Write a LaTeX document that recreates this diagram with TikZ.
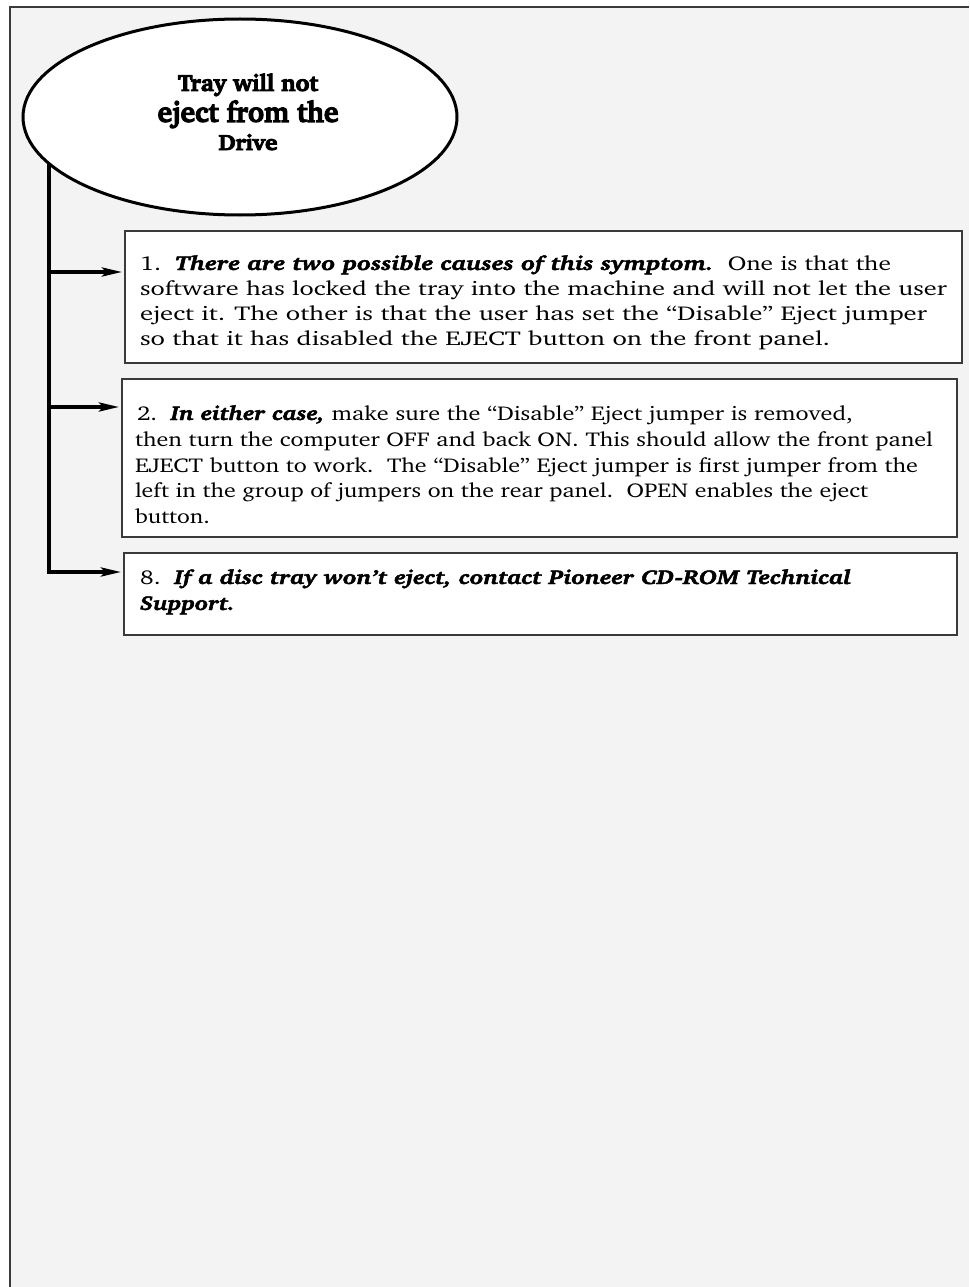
\documentclass[tikz,border=0pt]{standalone}
\usepackage[T1]{fontenc}
\usepackage{charter}
\usepackage{graphicx}
\usetikzlibrary{shapes.geometric,arrows.meta}
\definecolor{bgc}{HTML}{F3F3F3}
\definecolor{edgec}{HTML}{3A3A3A}
\newsavebox\fitbox
\newcommand\fitline[2]{\sbox\fitbox{#2}\pgfmathsetmacro\fitr{#1/(\wd\fitbox)}\scalebox{\fitr}[1]{\usebox\fitbox}}
\newcommand\fitlinev[3]{\sbox\fitbox{#3}\pgfmathsetmacro\fitr{#1/(\wd\fitbox)}\scalebox{\fitr}[#2]{\usebox\fitbox}}
\newcommand\heavy[2]{\special{pdf:literal direct 2 Tr #1 w}#2\special{pdf:literal direct 0 Tr}}
\newcommand\bi[1]{{\bfseries\itshape\heavy{0.45}{#1}}}
\tikzset{
  stepbox/.style={draw=edgec, line width=1.3pt, fill=white, inner sep=0pt, outer sep=0pt},
  txt/.style={anchor=base west, inner sep=0pt, outer sep=0pt, font=\fontsize{20}{24}\selectfont},
  ttl/.style={anchor=base, inner sep=0pt, outer sep=0pt},
  conn/.style={line width=3.5pt, -{Stealth[length=20pt,width=9pt,inset=4pt]}, shorten >=3pt}
}
\begin{document}
\begin{tikzpicture}[x=1pt,y=-1pt]
\useasboundingbox (0,0) rectangle (969,1287);
\fill[white] (0,0) rectangle (969,1287);
\fill[bgc] (9,6) rectangle (969,1287);
\draw[edgec, line width=1.6pt] (9.8,1287) -- (9.8,6.8) -- (969,6.8);

% boxes
\node[stepbox, minimum width=837pt, minimum height=132pt] (b1) at (543.5,297) {};
\node[stepbox, minimum width=835pt, minimum height=158pt] (b2) at (539.5,458) {};
\node[stepbox, minimum width=833pt, minimum height=82pt] (b3) at (540.5,594) {};

% connectors
\coordinate (ttop) at (49,150);
\coordinate (j1) at (49,272);
\coordinate (j2) at (49,407);
\coordinate (j3) at (49,572);
\draw[line width=3.5pt] (ttop) -- (j1);
\draw[conn] (j1) -- (j1 -| b1.west);
\draw[conn] (j2) -- (j2 -| b2.west);
\draw[conn] (ttop) -- (j3) -- (j3 -| b3.west);

% ellipse
\node[ellipse, draw, line width=3pt, fill=white, minimum width=434pt, minimum height=196pt, inner sep=0pt] (e) at (240,117) {};
\node[ttl] (e1) at (248,91) {\fitlinev{140}{1.12}{\fontsize{21}{24}\selectfont\bfseries\heavy{0.8}{Tray will not}}};
\node[ttl] (e2) at (248,122) {\fitlinev{181}{1.12}{\fontsize{26}{30}\selectfont\bfseries\heavy{0.9}{eject from the}}};
\node[ttl] (e3) at (248,150) {\fitlinev{59}{1.1}{\fontsize{20}{24}\selectfont\bfseries\heavy{0.8}{Drive}}};

% box 1 text
\node[txt] (t11) at (140,270) {\fitline{751}{1.\ \ \bi{There are two possible causes of this symptom.}\ \ One is that the}};
\node[txt] (t12) at (140,295) {\fitline{807}{software has locked the tray into the machine and will not let the user}};
\node[txt] (t13) at (140,320) {\fitline{787}{eject it. The other is that the user has set the ``Disable'' Eject jumper}};
\node[txt] (t14) at (140,345) {\fitline{690}{so that it has disabled the EJECT button on the front panel.}};

% box 2 text
\node[txt] (t21) at (137,420) {\fitline{716}{2.\ \ \bi{In either case,} make sure the ``Disable'' Eject jumper is removed,}};
\node[txt] (t22) at (135,446) {\fitline{798}{then turn the computer OFF and back ON. This should allow the front panel}};
\node[txt] (t23) at (135,472) {\fitline{783}{EJECT button to work.\ \ The ``Disable'' Eject jumper is first jumper from the}};
\node[txt] (t24) at (135,497) {\fitline{733}{left in the group of jumpers on the rear panel.\ \ OPEN enables the eject}};
\node[txt] (t25) at (135,523) {\fitline{75}{button.}};

% box 3 text
\node[txt] (t31) at (140,584) {\fitline{711}{8.\ \ \bi{If a disc tray won't eject, contact Pioneer CD-ROM Technical}}};
\node[txt] (t32) at (140,610) {\fitline{95}{\bi{Support.}}};
\end{tikzpicture}
\end{document}
